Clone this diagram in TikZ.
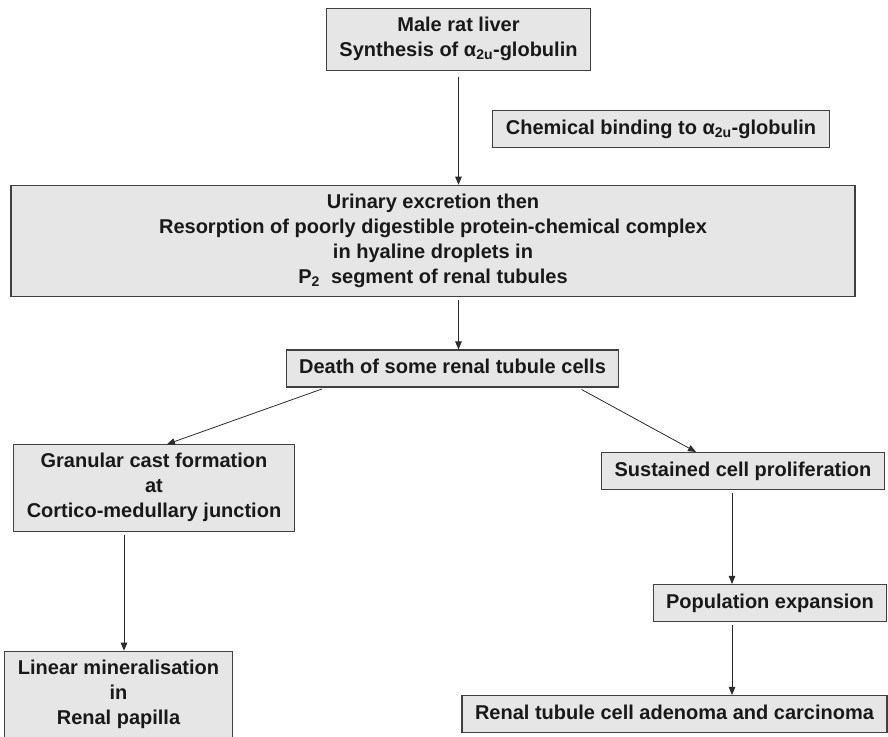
\documentclass[tikz,border=0pt]{standalone}
\usepackage{fontspec}
\setmainfont{Liberation Sans}
\usetikzlibrary{arrows.meta}
\definecolor{boxfill}{HTML}{E6E6E6}
\definecolor{boxline}{HTML}{404040}
\definecolor{arrowline}{HTML}{2B2B2B}
\newcommand{\bxstrut}{\rule[-5pt]{0pt}{20pt}}

\begin{document}
\begin{tikzpicture}[x=1pt, y=-1pt, >={Triangle[length=8pt,width=6.5pt]},
    box/.style={draw=boxline, line width=1.1pt, fill=boxfill, align=center,
        inner xsep=13pt, inner ysep=8.5pt, text=black!90,
        font=\bfseries\fontsize{20pt}{25pt}\selectfont,
        execute at begin node=\bxstrut, execute at end node=\bxstrut},
    link/.style={->, arrowline, line width=0.8pt, shorten <=3pt}]
    \useasboundingbox (0,0) rectangle (888,736);
    % liver side
    \node[box] (liver) at (458.5,39.5) {Male rat liver\\Synthesis of α\textsubscript{2u}-globulin};
    \node[box] (binding) at (661,129) {Chemical binding to α\textsubscript{2u}-globulin};
    \node[box, minimum width=844pt] (excretion) at (433,241) {Urinary excretion then\\Resorption of poorly digestible protein-chemical complex\\in hyaline droplets in\\P\textsubscript{2}\ \ segment of renal tubules};
    \node[box] (death) at (452.5,368.5) {Death of some renal tubule cells};
    % left branch
    \node[box] (cast) at (154,488) {Granular cast formation\\at\\Cortico-medullary junction};
    \node[box] (mineral) at (118.5,694.5) {Linear mineralisation\\in\\Renal papilla};
    % right branch
    \node[box] (prolif) at (743,471) {Sustained cell proliferation};
    \node[box] (expand) at (770,603) {Population expansion};
    \node[box] (tumour) at (674.5,714) {Renal tubule cell adenoma and carcinoma};

    \draw[link, shorten <=6pt] (liver.south) -- (liver.south |- excretion.north);
    \draw[link] (liver.south |- excretion.south) -- (liver.south |- death.north);
    \draw[link, shorten <=4pt] ([xshift=-126.5pt]death.south) -- ([xshift=13pt]cast.north);
    \draw[link, shorten <=4pt] ([xshift=125.5pt]death.south) -- ([xshift=-47pt]prolif.north);
    \draw[link] ([xshift=-30pt]cast.south) -- ([xshift=-30pt]cast.south |- mineral.north);
    \draw[link] ([xshift=-11pt]prolif.south) -- ([xshift=-11pt]prolif.south |- expand.north);
    \draw[link] ([xshift=-38pt]expand.south) -- ([xshift=-38pt]expand.south |- tumour.north);
\end{tikzpicture}
\end{document}
